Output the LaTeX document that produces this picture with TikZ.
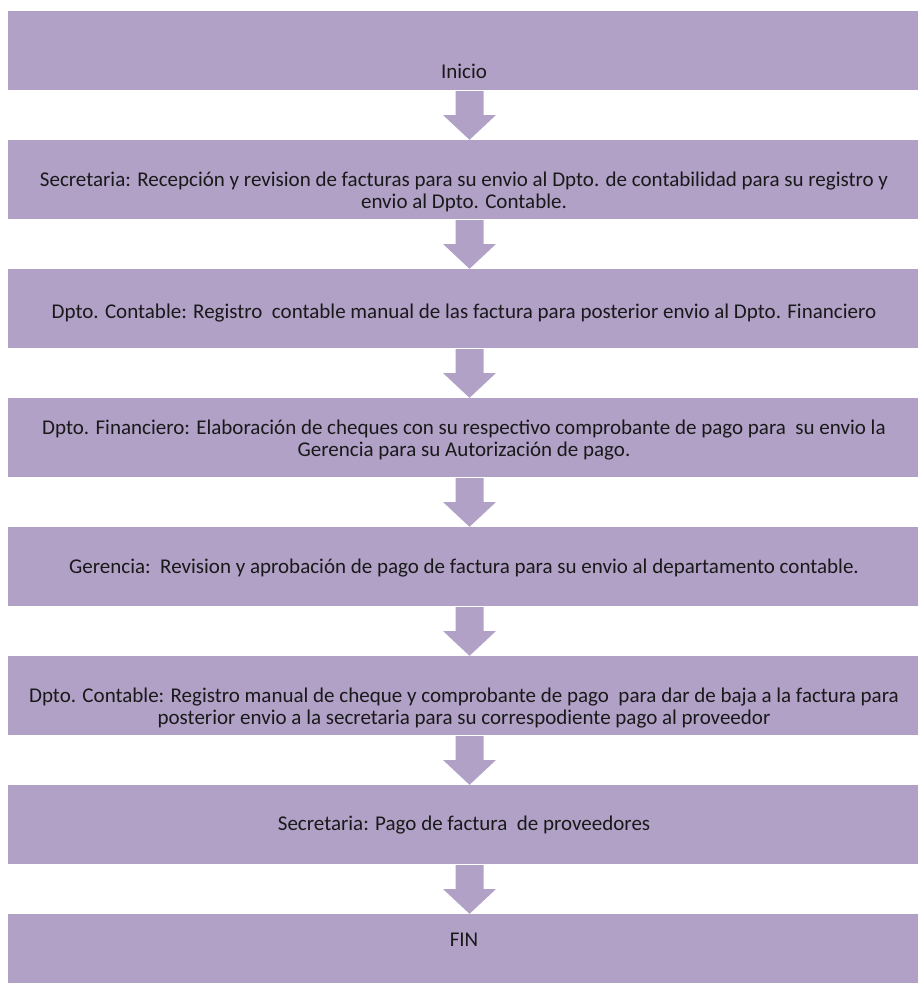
\documentclass[tikz,border=0pt]{standalone}
\usepackage{fontspec}
\setmainfont{Carlito}
\usetikzlibrary{positioning,calc}
\definecolor{lila}{RGB}{177,161,199}
\tikzset{
  caja/.style={fill=lila,minimum width=912pt,minimum height=79pt,inner sep=0pt},
  texto/.style={font=\fontsize{21}{22}\selectfont,align=center,inner sep=0pt,text=black!90},
  flecha/.style={fill=lila}
}
\begin{document}
\begin{tikzpicture}[x=1pt,y=-1pt,node distance=49.6pt]
  \useasboundingbox (0,0) rectangle (918,983);
  % cajas
  \node[caja] (b1) at (464,50.5) {};
  \node[caja,below=of b1] (b2) {};
  \node[caja,below=of b2] (b3) {};
  \node[caja,below=of b3] (b4) {};
  \node[caja,below=of b4] (b5) {};
  \node[caja,below=of b5] (b6) {};
  \node[caja,below=of b6] (b7) {};
  \node[caja,below=of b7] (b8) {};

  % flechas
  \foreach \a/\b in {b1/b2,b2/b3,b3/b4,b4/b5,b5/b6,b6/b7,b7/b8}
  \fill[flecha] let \p1=(\a.south), \p2=(\b.north) in
    (\x1+5.5pt-14pt,\y1-1pt) -- (\x1+5.5pt-14pt,{(\y1+\y2)/2}) --
    (\x1+5.5pt-26.5pt,{(\y1+\y2)/2}) -- (\x1+5.5pt,\y2) --
    (\x1+5.5pt+26.5pt,{(\y1+\y2)/2}) -- (\x1+5.5pt+14pt,{(\y1+\y2)/2}) --
    (\x1+5.5pt+14pt,\y1-1pt) -- cycle;

  % textos
  \node[texto] (t1) at ([yshift=-20.5pt]b1.center) {Inicio};
  \node[texto] (t2) at ([yshift=-12pt]b2.center)
  {Secretaria: Recepción y revision de facturas para su envio al Dpto. de contabilidad para su registro y\\
   envio al Dpto. Contable.};
  \node[texto] (t3) at ([yshift=-4.5pt]b3.center)
  {Dpto. Contable: Registro\ \ contable manual de las factura para posterior envio al Dpto. Financiero};
  \node[texto] (t4) at ([yshift=-2.3pt]b4.center)
  {Dpto. Financiero: Elaboración de cheques con su respectivo comprobante de pago para\ \ su envio la\\
   Gerencia para su Autorización de pago.};
  \node[texto] (t5) at ([yshift=-1.2pt]b5.center)
  {Gerencia:\ \ Revision y aprobación de pago de factura para su envio al departamento contable.};
  \node[texto] (t6) at ([yshift=-12.6pt]b6.center)
  {Dpto. Contable: Registro manual de cheque y comprobante de pago\ \ para dar de baja a la factura para\\
   posterior envio a la secretaria para su correspodiente pago al proveedor};
  \node[texto] (t7) at ([yshift=-1pt]b7.center) {Secretaria: Pago de factura\ \ de proveedores};
  \node[texto] (t8) at ([yshift=13.5pt]b8.center) {FIN};
\end{tikzpicture}
\end{document}
